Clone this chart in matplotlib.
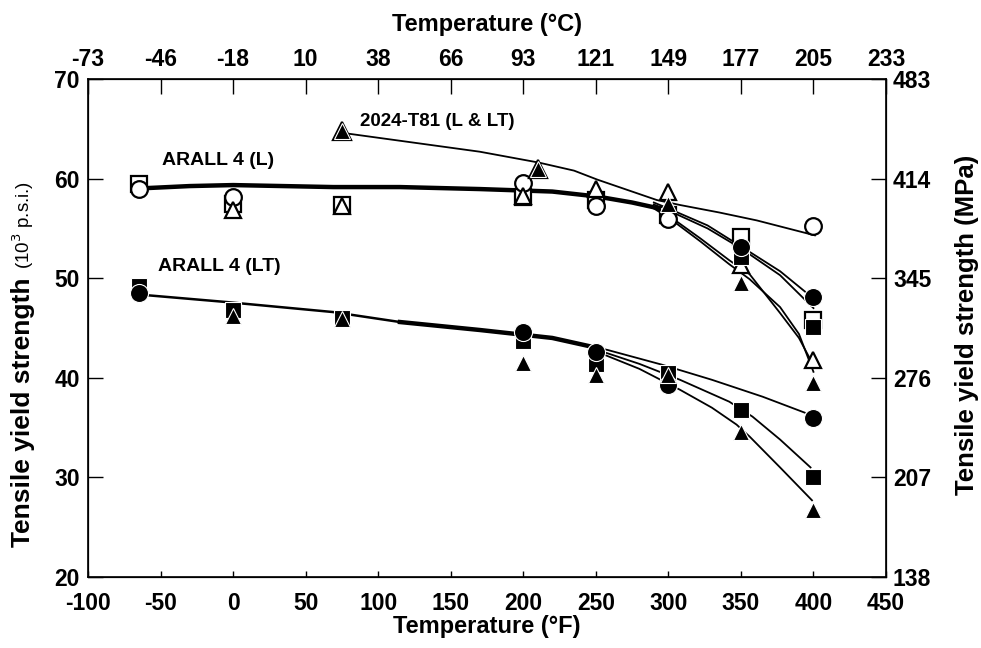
import numpy as np
import matplotlib
matplotlib.use('Agg')
import matplotlib.pyplot as plt

plt.rcParams['font.family'] = ['Liberation Sans', 'DejaVu Sans']
plt.rcParams['axes.unicode_minus'] = False

# temperature ticks (deg F) and the matching deg C labels
f_ticks = [-100, -50, 0, 50, 100, 150, 200, 250, 300, 350, 400, 450]
c_labels = ['-73', '-46', '-18', '10', '38', '66', '93', '121', '149', '177', '205', '233']
ksi_ticks = [20, 30, 40, 50, 60, 70]
mpa_labels = ['138', '207', '276', '345', '414', '483']

# ARALL 4 (L), open symbols
l_circ_T = [-65, 0, 200, 250, 300, 400]
l_circ_S = [59.0, 58.2, 59.6, 57.2, 55.9, 55.2]
l_sq_T = [-65, 0, 75, 200, 250, 300, 350, 400]
l_sq_S = [59.5, 57.4, 57.3, 58.2, 57.9, 56.3, 54.1, 45.8]
l_tri_T = [0, 75, 200, 250, 300, 350, 400]
l_tri_S = [56.8, 57.2, 58.3, 59.0, 58.7, 51.3, 41.8]

# 2024-T81 points (L & LT on top of each other)
al_T = [75, 210]
al_S = [64.8, 61.0]

# filled symbols, upper group
u_circ_T = [350, 400]
u_circ_S = [53.1, 48.1]
u_sq_T = [350, 400]
u_sq_S = [52.1, 45.1]
u_tri_T = [300, 350, 400]
u_tri_S = [57.5, 49.5, 39.5]

# ARALL 4 (LT), filled symbols
lt_circ_T = [-65, 200, 250, 300, 400]
lt_circ_S = [48.5, 44.6, 42.6, 39.3, 36.0]
lt_sq_T = [-65, 0, 75, 200, 250, 300, 350, 400]
lt_sq_S = [49.2, 46.8, 46.0, 43.7, 41.4, 40.5, 36.8, 30.0]
lt_tri_T = [0, 75, 200, 250, 300, 350, 400]
lt_tri_S = [46.2, 45.9, 41.5, 40.3, 40.3, 34.6, 26.7]

# fitted curves
fit_l_T = [-59, -30, 0, 69, 115, 170, 220, 251, 275, 300]
fit_l_S = [59.05, 59.25, 59.35, 59.15, 59.15, 58.95, 58.7, 58.2, 57.6, 56.8]
fit_al_T = [75, 125, 170, 211, 235, 251, 275, 292, 308, 335, 361, 401]
fit_al_S = [64.6, 63.6, 62.7, 61.6, 60.8, 59.9, 58.7, 57.85, 57.35, 56.6, 55.8, 54.3]
fit_u1_T = [290, 300, 327, 350, 377, 398]
fit_u1_S = [57.6, 57.0, 55.3, 53.2, 50.7, 48.2]
fit_u2_T = [290, 300, 327, 350, 377, 400]
fit_u2_S = [57.4, 56.8, 55.0, 53.0, 50.3, 47.0]
fit_u3_T = [290, 300, 322, 342, 356, 377, 390, 398]
fit_u3_S = [57.1, 56.3, 54.0, 51.8, 50.4, 46.5, 44.0, 41.8]
fit_u4_T = [290, 300, 322, 342, 356, 377, 390, 400]
fit_u4_S = [57.0, 56.1, 53.7, 51.4, 49.9, 47.1, 44.4, 40.6]

fit_lt_T = [-60, -4, 69, 115, 170, 220, 251]
fit_lt_S = [48.3, 47.6, 46.6, 45.6, 44.8, 44.0, 43.0]
fit_lt1_T = [251, 258, 296, 330, 365, 394]
fit_lt1_S = [43.0, 42.8, 41.3, 39.8, 38.1, 36.5]
fit_lt2_T = [251, 280, 308, 342, 358, 377, 398]
fit_lt2_S = [42.8, 41.4, 39.8, 37.6, 36.1, 33.8, 31.0]
fit_lt3_T = [251, 280, 308, 330, 347, 356, 377, 399]
fit_lt3_S = [42.6, 40.9, 38.8, 37.0, 35.3, 34.1, 31.0, 27.7]

fig = plt.figure(figsize=(9.81, 6.48), dpi=100)
ax = fig.add_axes([88/981, 71/648, 798/981, 498/648])

# curves
ax.plot(fit_l_T, fit_l_S, '-', color='black', lw=3.2, zorder=2, solid_capstyle='round')
ax.plot(fit_lt_T, fit_lt_S, '-', color='black', lw=1.8, zorder=2)
ax.plot(fit_lt_T[3:], fit_lt_S[3:], '-', color='black', lw=3.2, zorder=2)
ax.plot(fit_al_T, fit_al_S, '-', color='black', lw=1.3, zorder=2)
for tt, ss in [(fit_u1_T, fit_u1_S), (fit_u2_T, fit_u2_S), (fit_u3_T, fit_u3_S),
               (fit_u4_T, fit_u4_S), (fit_lt1_T, fit_lt1_S), (fit_lt2_T, fit_lt2_S),
               (fit_lt3_T, fit_lt3_S)]:
    ax.plot(tt, ss, '-', color='black', lw=1.3, zorder=2)

# symbols
op = dict(linestyle='none', markerfacecolor='white', markeredgecolor='black',
          markeredgewidth=1.6, zorder=3)
fi = dict(linestyle='none', markerfacecolor='black', markeredgecolor='white',
          markeredgewidth=0.8, zorder=4)
ax.plot(l_sq_T, l_sq_S, 's', ms=11, **op)
ax.plot(l_circ_T, l_circ_S, 'o', ms=12, **op)
ax.plot(l_tri_T, l_tri_S, '^', ms=12, **op)
ax.plot(al_T, al_S, '^', ms=13, **op)
ax.plot(al_T, al_S, '^', ms=12, **fi)
ax.plot(u_sq_T, u_sq_S, 's', ms=11, **fi)
ax.plot(u_circ_T, u_circ_S, 'o', ms=13, **fi)
ax.plot(u_tri_T, u_tri_S, '^', ms=12, **fi)
ax.plot(lt_sq_T, lt_sq_S, 's', ms=11, **fi)
ax.plot(lt_circ_T, lt_circ_S, 'o', ms=13, **fi)
ax.plot(lt_tri_T, lt_tri_S, '^', ms=12, **fi)

ax.text(87.5, 65.7, '2024-T81 (L & LT)', fontsize=13.5, fontweight='bold', va='center')
ax.text(-49, 61.8, 'ARALL 4 (L)', fontsize=14, fontweight='bold', va='center')
ax.text(-52, 51.2, 'ARALL 4 (LT)', fontsize=14, fontweight='bold', va='center')

ax.set_xlim(-100, 450)
ax.set_ylim(20, 70)
ax.set_xticks(f_ticks)
ax.set_yticks(ksi_ticks)
ax.tick_params(axis='x', direction='in', length=4, width=1, pad=11, labelsize=16.5)
ax.tick_params(axis='y', direction='in', length=11, width=1, pad=6, labelsize=16.5)
for lab in ax.get_xticklabels() + ax.get_yticklabels():
    lab.set_fontweight('bold')
for sp in ax.spines.values():
    sp.set_linewidth(1.2)
ax.set_xlabel('Temperature (°F)', fontsize=17, fontweight='bold', labelpad=0)

# deg C scale on top
axt = ax.twiny()
axt.set_xlim(ax.get_xlim())
axt.set_xticks(f_ticks)
axt.set_xticklabels(c_labels, fontweight='bold')
axt.tick_params(axis='x', direction='in', length=11, width=1, pad=6, labelsize=16.5)
axt.set_xlabel('Temperature (°C)', fontsize=17, fontweight='bold', labelpad=12)

# MPa scale on the right
axr = ax.twinx()
axr.set_ylim(ax.get_ylim())
axr.set_yticks(ksi_ticks)
axr.set_yticklabels(mpa_labels, fontweight='bold')
axr.tick_params(axis='y', direction='in', length=11, width=1, pad=5, labelsize=16.5)
fig.text(967/981, 1 - 325/648, 'Tensile yield strength (MPa)', rotation=90,
         fontsize=18.5, fontweight='bold', ha='center', va='center')

t1 = fig.text(23/981, 1 - 547/648, 'Tensile yield strength', rotation=90,
              fontsize=19, fontweight='bold', ha='center', va='bottom')
ax.annotate('(10$^3$ p.s.i.)', xy=(0.5, 1.0), xycoords=t1, xytext=(0, 6),
            textcoords='offset points', rotation=90, fontsize=13.5,
            ha='center', va='bottom')

fig.savefig('out.png', dpi=100)
